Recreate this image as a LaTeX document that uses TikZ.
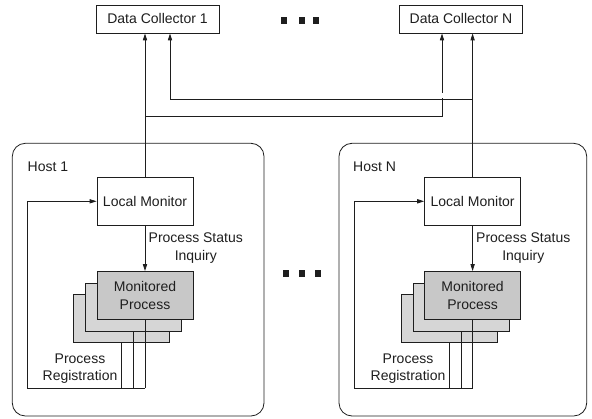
\documentclass[tikz,border=0pt]{standalone}
\usepackage{fontspec}
\setmainfont{Liberation Sans}
\usetikzlibrary{arrows.meta}
\definecolor{linec}{RGB}{30,30,30}
\definecolor{mpfront}{RGB}{200,200,200}
\definecolor{mpback}{RGB}{214,214,214}
\tikzset{
  conn/.style={draw=linec, line width=0.8pt},
  arr/.style={conn, -{Triangle[length=7pt,width=4.2pt]}},
  txt/.style={font=\fontsize{14}{17.5}\selectfont, inner sep=0pt, text=linec},
  box/.style={txt, draw=linec, line width=0.8pt, fill=white, minimum width=96pt, minimum height=48pt, align=center},
  dcbox/.style={txt, draw=linec, line width=0.8pt, fill=white, minimum width=123pt, minimum height=28pt},
  mpf/.style={box, fill=mpfront},
  mpb/.style={box, fill=mpback},
  hostbox/.style={draw=linec, line width=0.8pt, rounded corners=13pt},
  dotsq/.style={fill=linec, minimum width=6pt, minimum height=7pt, inner sep=0pt},
}
\begin{document}
\begin{tikzpicture}[x=1pt,y=-1pt]
\useasboundingbox (0,0) rectangle (592,419);

% data collectors
\node[dcbox] (dc1) at (157.5,19) {Data Collector 1};
\node[dcbox] (dcn) at (461,19) {Data Collector N};
\node[dotsq] (td1) at (284,20.3) {};
\node[dotsq] (td2) at (301.5,20.3) {};
\node[dotsq] (td3) at (316,20.3) {};

% hosts
\draw[hostbox] (12.3,143.3) rectangle (264,416);
\draw[hostbox] (339,143.3) rectangle (586.7,416);
\node[txt, anchor=west] (h1) at (27.5,167) {Host 1};
\node[txt, anchor=west] (hn) at (353,167) {Host N};

\node[dotsq] (md1) at (286,274) {};
\node[dotsq] (md2) at (302,274) {};
\node[dotsq] (md3) at (318,274) {};

% host 1 content
\node[box] (lm1) at (145,201.3) {Local Monitor};
\node[mpb] (mp1c) at (121.6,318.9) {};
\node[mpb] (mp1b) at (133.3,307.2) {};
\node[mpf] (mp1a) at (145,295.5) {Monitored\\Process};
\draw[arr] (lm1) -- (mp1a);
\node[txt, align=center, anchor=west] (psi1) at (148.5,248) {Process Status\\Inquiry};
\coordinate (b1) at (145,388.3);
\coordinate (l1) at (27.3,388.3);
\draw[conn] (mp1a.south) -- (b1);
\draw[conn] (mp1b.south) -- (mp1b.south |- b1);
\draw[conn] (mp1c.south) -- (mp1c.south |- b1);
\draw[arr] (b1) -- (l1) -- (l1 |- lm1.west) -- (lm1.west);
\node[txt, align=center] (pr1) at (80,368.7) {Process\\Registration};

% host N content
\node[box] (lmn) at (472.6,201.3) {Local Monitor};
\node[mpb] (mpnc) at (449.2,318.9) {};
\node[mpb] (mpnb) at (460.9,307.2) {};
\node[mpf] (mpna) at (472.6,295.5) {Monitored\\Process};
\draw[arr] (lmn) -- (mpna);
\node[txt, align=center, anchor=west] (psin) at (476,248) {Process Status\\Inquiry};
\coordinate (bn) at (472.6,388.3);
\coordinate (ln) at (354.5,388.3);
\draw[conn] (mpna.south) -- (bn);
\draw[conn] (mpnb.south) -- (mpnb.south |- bn);
\draw[conn] (mpnc.south) -- (mpnc.south |- bn);
\draw[arr] (bn) -- (ln) -- (ln |- lmn.west) -- (lmn.west);
\node[txt, align=center] (prn) at (408,368.7) {Process\\Registration};

% connections to data collectors
\coordinate (j1) at (145,116.3);
\coordinate (k1) at (442,116.3);
\coordinate (jn) at (472.6,99);
\coordinate (kn) at (170,99);
\draw[arr] (lm1.north) -- (lm1.north |- dc1.south);
\draw[arr] (j1) -- (k1) -- (k1 |- dcn.south);
\draw[white, line width=1.6pt] (442,93.3) -- (442,98.2);
\draw[arr] (lmn.north) -- (lmn.north |- dcn.south);
\draw[arr] (jn) -- (kn) -- (kn |- dc1.south);
\end{tikzpicture}
\end{document}
